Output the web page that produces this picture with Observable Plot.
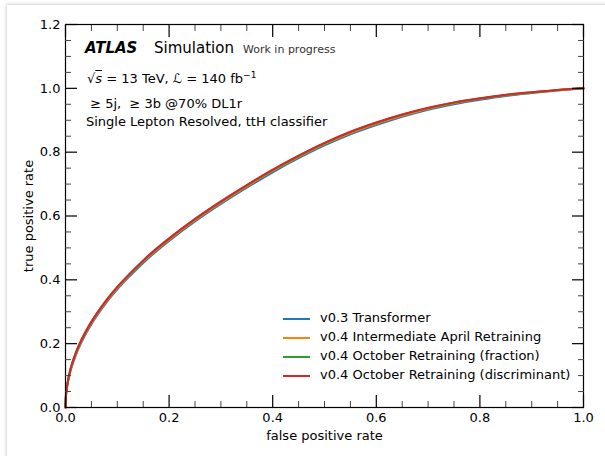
<!DOCTYPE html>
<html>
<head>
<meta charset="utf-8">
<script src="https://cdn.jsdelivr.net/npm/d3@7"></script>
<script src="https://cdn.jsdelivr.net/npm/@observablehq/plot@0.6"></script>
<style>
  html, body { margin: 0; padding: 0; background: #fff; overflow: hidden; }
  #wrap { position: relative; width: 605px; height: 456px; font-family: "DejaVu Sans", sans-serif; color: #000; }
  #card { position: absolute; left: 7px; top: 5px; width: 700px; height: 600px; background: #fff;
          box-shadow: 0 0 3px 1px rgba(0,0,0,0.18); }
  #chart { position: absolute; left: 0; top: 0; }
  .ann { position: absolute; white-space: nowrap; line-height: 1; }
  .leg { position: absolute; white-space: nowrap; font-size: 13px; line-height: 1; }
  .leg .sw { position: absolute; left: 0; top: 0; width: 27px; height: 2px; }
  .leg .lt { position: absolute; left: 37px; top: -7px; }
</style>
</head>
<body>
<div id="wrap">
  <div id="card"></div>
  <div id="chart"></div>
  <div class="ann" style="left:85px; top:41px; font-size:15px; font-weight:bold; font-style:italic;">ATLAS</div>
  <div class="ann" style="left:154px; top:41px; font-size:15px;">Simulation</div>
  <div class="ann" style="left:243px; top:44px; font-size:11px; color:#333;">Work in progress</div>
  <div class="ann" style="left:87px; top:71px; font-size:13px;">
    √<span style="text-decoration:overline; font-style:italic;">s</span> = 13 TeV, ℒ = 140 fb<sup style="font-size:9px; vertical-align:5px;">−1</sup>
  </div>
  <div class="ann" style="left:86px; top:97px; font-size:13px;">&nbsp;≥ 5j,&nbsp; ≥ 3b @70% DL1r</div>
  <div class="ann" style="left:86px; top:115px; font-size:13px;">Single Lepton Resolved, ttH classifier</div>
  <div id="legend"></div>
</div>
<script>
// ROC curves
const fpr = [0, 0.001, 0.0025, 0.005, 0.01, 0.02, 0.03, 0.04, 0.05, 0.06, 0.08, 0.1, 0.125, 0.15, 0.175, 0.2, 0.25, 0.3, 0.35, 0.4, 0.45, 0.5, 0.55, 0.6, 0.65, 0.7, 0.75, 0.8, 0.85, 0.9, 0.95, 1.0];
const tprV03Transformer = [0, 0.036, 0.057, 0.081, 0.116, 0.164, 0.202, 0.233, 0.261, 0.286, 0.331, 0.370, 0.413, 0.453, 0.489, 0.522, 0.583, 0.638, 0.689, 0.737, 0.781, 0.821, 0.856, 0.885, 0.911, 0.933, 0.950, 0.964, 0.976, 0.985, 0.993, 1.0];
const tprV04April = [0, 0.038, 0.059, 0.084, 0.119, 0.168, 0.206, 0.237, 0.265, 0.290, 0.335, 0.374, 0.417, 0.457, 0.493, 0.526, 0.587, 0.642, 0.693, 0.741, 0.785, 0.825, 0.860, 0.889, 0.914, 0.936, 0.953, 0.967, 0.978, 0.987, 0.994, 1.0];
const tprV04OctFraction = [0, 0.039, 0.061, 0.086, 0.122, 0.171, 0.209, 0.240, 0.268, 0.293, 0.338, 0.377, 0.420, 0.460, 0.496, 0.529, 0.590, 0.645, 0.696, 0.744, 0.788, 0.828, 0.863, 0.892, 0.917, 0.938, 0.955, 0.968, 0.979, 0.987, 0.995, 1.0];
const tprV04OctDiscriminant = [0, 0.040, 0.062, 0.087, 0.123, 0.172, 0.210, 0.241, 0.269, 0.294, 0.339, 0.378, 0.421, 0.461, 0.497, 0.530, 0.591, 0.646, 0.697, 0.745, 0.789, 0.829, 0.864, 0.893, 0.918, 0.939, 0.956, 0.969, 0.980, 0.988, 0.995, 1.0];

const seriesNames = [
  "v0.3 Transformer",
  "v0.4 Intermediate April Retraining",
  "v0.4 October Retraining (fraction)",
  "v0.4 October Retraining (discriminant)"
];
const seriesColors = ["#1f77b4", "#ff7f0e", "#2ca02c", "#d62728"];
const seriesTpr = [tprV03Transformer, tprV04April, tprV04OctFraction, tprV04OctDiscriminant];

const xMajor = [0, 0.2, 0.4, 0.6, 0.8, 1.0];
const yMajor = [0, 0.2, 0.4, 0.6, 0.8, 1.0, 1.2];
const xMinor = d3.range(0, 21).map(i => i / 20).filter(v => Math.round(v * 100) % 20 !== 0);
const yMinor = d3.range(0, 25).map(i => i / 20).filter(v => Math.round(v * 100) % 20 !== 0);

const data = seriesNames.flatMap((name, i) => fpr.map((f, j) => ({series: name, fpr: f, tpr: seriesTpr[i][j]})));

const fmt = d3.format(".1f");
const blank = () => "";

const chart = Plot.plot({
  width: 605,
  height: 456,
  marginLeft: 65,
  marginRight: 22,
  marginTop: 24,
  marginBottom: 49,
  style: {fontFamily: "DejaVu Sans", fontSize: "13px", background: "transparent", color: "#000", overflow: "visible"},
  x: {domain: [0, 1]},
  y: {domain: [0, 1.2]},
  color: {domain: seriesNames, range: seriesColors},
  marks: [
    Plot.line(data, {x: "fpr", y: "tpr", z: "series", stroke: "series", strokeWidth: 2, curve: "monotone-x"}),
    Plot.frame({stroke: "#000", strokeWidth: 1.2}),
    // major ticks with labels
    Plot.axisX({anchor: "bottom", ticks: xMajor, tickSize: -12, tickPadding: 17, tickFormat: fmt, fontSize: 13,
                label: "false positive rate", labelAnchor: "center", labelOffset: 32, labelArrow: "none", strokeWidth: 1.2}),
    Plot.axisY({anchor: "left", ticks: yMajor, tickSize: -12, tickPadding: 17, tickFormat: fmt, fontSize: 13,
                label: "true positive rate", labelAnchor: "center", labelOffset: 42, labelArrow: "none", strokeWidth: 1.2}),
    Plot.axisX({anchor: "top", ticks: xMajor, tickSize: -12, tickFormat: blank, label: null, strokeWidth: 1.2}),
    Plot.axisY({anchor: "right", ticks: yMajor, tickSize: -12, tickFormat: blank, label: null, strokeWidth: 1.2}),
    // minor ticks
    Plot.axisX({anchor: "bottom", ticks: xMinor, tickSize: -6, tickFormat: blank, label: null, stroke: "#444"}),
    Plot.axisX({anchor: "top", ticks: xMinor, tickSize: -6, tickFormat: blank, label: null, stroke: "#444"}),
    Plot.axisY({anchor: "left", ticks: yMinor, tickSize: -6, tickFormat: blank, label: null, stroke: "#444"}),
    Plot.axisY({anchor: "right", ticks: yMinor, tickSize: -6, tickFormat: blank, label: null, stroke: "#444"})
  ]
});
document.getElementById("chart").appendChild(chart);

// legend
const legendTop = [319, 338, 357, 376];
const leg = document.getElementById("legend");
seriesNames.forEach((name, i) => {
  const row = document.createElement("div");
  row.className = "leg";
  row.style.left = "283px";
  row.style.top = (legendTop[i] - 1) + "px";
  row.innerHTML = `<div class="sw" style="background:${seriesColors[i]}"></div><div class="lt">${name}</div>`;
  leg.appendChild(row);
});
</script>
</body>
</html>
